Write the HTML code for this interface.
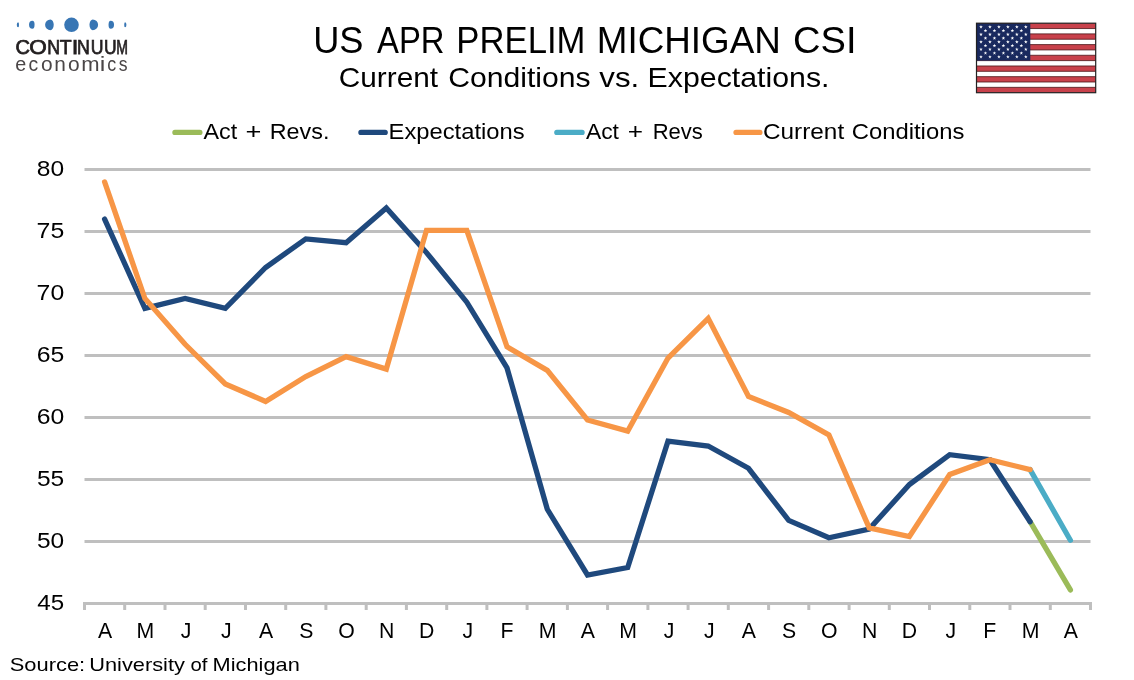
<!DOCTYPE html>
<html><head><meta charset="utf-8"><style>
html,body{margin:0;padding:0;background:#fff;}
svg{display:block;will-change:transform;}
text{font-family:"Liberation Sans", sans-serif;}
</style></head><body>
<svg width="1134" height="680" viewBox="0 0 1134 680">
<rect width="1134" height="680" fill="#fff"/>
<line x1="84.5" y1="169.5" x2="1090.5" y2="169.5" stroke="#BFBFBF" stroke-width="3"/>
<line x1="84.5" y1="231.5" x2="1090.5" y2="231.5" stroke="#BFBFBF" stroke-width="3"/>
<line x1="84.5" y1="293.5" x2="1090.5" y2="293.5" stroke="#BFBFBF" stroke-width="3"/>
<line x1="84.5" y1="355.5" x2="1090.5" y2="355.5" stroke="#BFBFBF" stroke-width="3"/>
<line x1="84.5" y1="417.5" x2="1090.5" y2="417.5" stroke="#BFBFBF" stroke-width="3"/>
<line x1="84.5" y1="479.5" x2="1090.5" y2="479.5" stroke="#BFBFBF" stroke-width="3"/>
<line x1="84.5" y1="541.5" x2="1090.5" y2="541.5" stroke="#BFBFBF" stroke-width="3"/>
<line x1="83.0" y1="603.5" x2="1092.0" y2="603.5" stroke="#BFBFBF" stroke-width="3"/>
<line x1="84.5" y1="603.5" x2="84.5" y2="610.0" stroke="#BFBFBF" stroke-width="3"/>
<line x1="124.7" y1="603.5" x2="124.7" y2="610.0" stroke="#BFBFBF" stroke-width="3"/>
<line x1="165.0" y1="603.5" x2="165.0" y2="610.0" stroke="#BFBFBF" stroke-width="3"/>
<line x1="205.2" y1="603.5" x2="205.2" y2="610.0" stroke="#BFBFBF" stroke-width="3"/>
<line x1="245.5" y1="603.5" x2="245.5" y2="610.0" stroke="#BFBFBF" stroke-width="3"/>
<line x1="285.7" y1="603.5" x2="285.7" y2="610.0" stroke="#BFBFBF" stroke-width="3"/>
<line x1="325.9" y1="603.5" x2="325.9" y2="610.0" stroke="#BFBFBF" stroke-width="3"/>
<line x1="366.2" y1="603.5" x2="366.2" y2="610.0" stroke="#BFBFBF" stroke-width="3"/>
<line x1="406.4" y1="603.5" x2="406.4" y2="610.0" stroke="#BFBFBF" stroke-width="3"/>
<line x1="446.7" y1="603.5" x2="446.7" y2="610.0" stroke="#BFBFBF" stroke-width="3"/>
<line x1="486.9" y1="603.5" x2="486.9" y2="610.0" stroke="#BFBFBF" stroke-width="3"/>
<line x1="527.1" y1="603.5" x2="527.1" y2="610.0" stroke="#BFBFBF" stroke-width="3"/>
<line x1="567.4" y1="603.5" x2="567.4" y2="610.0" stroke="#BFBFBF" stroke-width="3"/>
<line x1="607.6" y1="603.5" x2="607.6" y2="610.0" stroke="#BFBFBF" stroke-width="3"/>
<line x1="647.9" y1="603.5" x2="647.9" y2="610.0" stroke="#BFBFBF" stroke-width="3"/>
<line x1="688.1" y1="603.5" x2="688.1" y2="610.0" stroke="#BFBFBF" stroke-width="3"/>
<line x1="728.3" y1="603.5" x2="728.3" y2="610.0" stroke="#BFBFBF" stroke-width="3"/>
<line x1="768.6" y1="603.5" x2="768.6" y2="610.0" stroke="#BFBFBF" stroke-width="3"/>
<line x1="808.8" y1="603.5" x2="808.8" y2="610.0" stroke="#BFBFBF" stroke-width="3"/>
<line x1="849.1" y1="603.5" x2="849.1" y2="610.0" stroke="#BFBFBF" stroke-width="3"/>
<line x1="889.3" y1="603.5" x2="889.3" y2="610.0" stroke="#BFBFBF" stroke-width="3"/>
<line x1="929.5" y1="603.5" x2="929.5" y2="610.0" stroke="#BFBFBF" stroke-width="3"/>
<line x1="969.8" y1="603.5" x2="969.8" y2="610.0" stroke="#BFBFBF" stroke-width="3"/>
<line x1="1010.0" y1="603.5" x2="1010.0" y2="610.0" stroke="#BFBFBF" stroke-width="3"/>
<line x1="1050.3" y1="603.5" x2="1050.3" y2="610.0" stroke="#BFBFBF" stroke-width="3"/>
<line x1="1090.5" y1="603.5" x2="1090.5" y2="610.0" stroke="#BFBFBF" stroke-width="3"/>
<text x="36.86" y="176.00" font-size="22.60" fill="#000" textLength="27.32" lengthAdjust="spacingAndGlyphs">80</text>
<text x="36.59" y="238.00" font-size="22.60" fill="#000" textLength="27.66" lengthAdjust="spacingAndGlyphs">75</text>
<text x="36.60" y="300.00" font-size="22.60" fill="#000" textLength="27.59" lengthAdjust="spacingAndGlyphs">70</text>
<text x="36.66" y="362.00" font-size="22.60" fill="#000" textLength="27.59" lengthAdjust="spacingAndGlyphs">65</text>
<text x="36.66" y="424.00" font-size="22.60" fill="#000" textLength="27.52" lengthAdjust="spacingAndGlyphs">60</text>
<text x="36.92" y="486.00" font-size="22.60" fill="#000" textLength="27.32" lengthAdjust="spacingAndGlyphs">55</text>
<text x="36.92" y="548.00" font-size="22.60" fill="#000" textLength="27.26" lengthAdjust="spacingAndGlyphs">50</text>
<text x="37.36" y="610.00" font-size="22.60" fill="#000" textLength="26.87" lengthAdjust="spacingAndGlyphs">45</text>
<text x="97.93" y="638.00" font-size="22.60" fill="#000" textLength="14.17" lengthAdjust="spacingAndGlyphs">A</text>
<text x="136.42" y="638.00" font-size="22.60" fill="#000" textLength="17.70" lengthAdjust="spacingAndGlyphs">M</text>
<text x="180.83" y="638.00" font-size="22.60" fill="#000" textLength="10.62" lengthAdjust="spacingAndGlyphs">J</text>
<text x="221.07" y="638.00" font-size="22.60" fill="#000" textLength="10.62" lengthAdjust="spacingAndGlyphs">J</text>
<text x="258.89" y="638.00" font-size="22.60" fill="#000" textLength="14.17" lengthAdjust="spacingAndGlyphs">A</text>
<text x="299.16" y="638.00" font-size="22.60" fill="#000" textLength="14.17" lengthAdjust="spacingAndGlyphs">S</text>
<text x="338.20" y="638.00" font-size="22.60" fill="#000" textLength="16.52" lengthAdjust="spacingAndGlyphs">O</text>
<text x="379.03" y="638.00" font-size="22.60" fill="#000" textLength="15.34" lengthAdjust="spacingAndGlyphs">N</text>
<text x="418.89" y="638.00" font-size="22.60" fill="#000" textLength="15.34" lengthAdjust="spacingAndGlyphs">D</text>
<text x="462.51" y="638.00" font-size="22.60" fill="#000" textLength="10.62" lengthAdjust="spacingAndGlyphs">J</text>
<text x="500.49" y="638.00" font-size="22.60" fill="#000" textLength="12.98" lengthAdjust="spacingAndGlyphs">F</text>
<text x="538.82" y="638.00" font-size="22.60" fill="#000" textLength="17.70" lengthAdjust="spacingAndGlyphs">M</text>
<text x="580.81" y="638.00" font-size="22.60" fill="#000" textLength="14.17" lengthAdjust="spacingAndGlyphs">A</text>
<text x="619.30" y="638.00" font-size="22.60" fill="#000" textLength="17.70" lengthAdjust="spacingAndGlyphs">M</text>
<text x="663.71" y="638.00" font-size="22.60" fill="#000" textLength="10.62" lengthAdjust="spacingAndGlyphs">J</text>
<text x="703.95" y="638.00" font-size="22.60" fill="#000" textLength="10.62" lengthAdjust="spacingAndGlyphs">J</text>
<text x="741.77" y="638.00" font-size="22.60" fill="#000" textLength="14.17" lengthAdjust="spacingAndGlyphs">A</text>
<text x="782.04" y="638.00" font-size="22.60" fill="#000" textLength="14.17" lengthAdjust="spacingAndGlyphs">S</text>
<text x="821.08" y="638.00" font-size="22.60" fill="#000" textLength="16.52" lengthAdjust="spacingAndGlyphs">O</text>
<text x="861.91" y="638.00" font-size="22.60" fill="#000" textLength="15.34" lengthAdjust="spacingAndGlyphs">N</text>
<text x="901.77" y="638.00" font-size="22.60" fill="#000" textLength="15.34" lengthAdjust="spacingAndGlyphs">D</text>
<text x="945.39" y="638.00" font-size="22.60" fill="#000" textLength="10.62" lengthAdjust="spacingAndGlyphs">J</text>
<text x="983.37" y="638.00" font-size="22.60" fill="#000" textLength="12.98" lengthAdjust="spacingAndGlyphs">F</text>
<text x="1021.70" y="638.00" font-size="22.60" fill="#000" textLength="17.70" lengthAdjust="spacingAndGlyphs">M</text>
<text x="1063.69" y="638.00" font-size="22.60" fill="#000" textLength="14.17" lengthAdjust="spacingAndGlyphs">A</text>
<polyline points="1030.1,521.7 1070.4,589.9" fill="none" stroke="#9BBB59" stroke-width="5.3" stroke-linejoin="miter" stroke-miterlimit="10" stroke-linecap="round"/>
<polyline points="104.6,219.1 144.9,308.4 185.1,298.5 225.3,308.4 265.6,267.5 305.8,238.9 346.1,242.7 386.3,207.9 426.5,252.6 466.8,302.2 507.0,367.9 547.3,509.3 587.5,575.0 627.7,567.5 668.0,441.1 708.2,446.0 748.5,468.3 788.7,520.4 828.9,537.8 869.2,529.1 909.4,484.5 949.7,454.7 989.9,459.7 1030.1,521.7" fill="none" stroke="#1F497D" stroke-width="5.3" stroke-linejoin="miter" stroke-miterlimit="10" stroke-linecap="round"/>
<polyline points="1030.1,469.6 1070.4,540.3" fill="none" stroke="#4BACC6" stroke-width="5.3" stroke-linejoin="miter" stroke-miterlimit="10" stroke-linecap="round"/>
<polyline points="104.6,181.9 144.9,298.5 185.1,344.3 225.3,384.0 265.6,401.4 305.8,376.6 346.1,356.7 386.3,369.1 426.5,230.3 466.8,230.3 507.0,346.8 547.3,370.4 587.5,420.0 627.7,431.1 668.0,358.0 708.2,318.3 748.5,396.4 788.7,412.5 828.9,434.9 869.2,527.9 909.4,536.5 949.7,474.5 989.9,459.7 1030.1,469.6" fill="none" stroke="#F79646" stroke-width="5.3" stroke-linejoin="miter" stroke-miterlimit="10" stroke-linecap="round"/>
<line x1="174.9" y1="132.4" x2="199.9" y2="132.4" stroke="#9BBB59" stroke-width="5.2" stroke-linecap="round"/>
<text x="203.54" y="138.80" font-size="22.60" fill="#000" textLength="33.73" lengthAdjust="spacingAndGlyphs">Act</text>
<text x="245.54" y="138.80" font-size="22.60" fill="#000" textLength="15.89" lengthAdjust="spacingAndGlyphs">+</text>
<text x="269.77" y="138.80" font-size="22.60" fill="#000" textLength="59.65" lengthAdjust="spacingAndGlyphs">Revs.</text>
<line x1="360.9" y1="132.4" x2="385.2" y2="132.4" stroke="#1F497D" stroke-width="5.2" stroke-linecap="round"/>
<text x="388.54" y="138.80" font-size="22.60" fill="#000" textLength="136.11" lengthAdjust="spacingAndGlyphs">Expectations</text>
<line x1="556.8" y1="132.4" x2="582.1" y2="132.4" stroke="#4BACC6" stroke-width="5.2" stroke-linecap="round"/>
<text x="585.94" y="138.80" font-size="22.60" fill="#000" textLength="33.02" lengthAdjust="spacingAndGlyphs">Act</text>
<text x="627.79" y="138.80" font-size="22.60" fill="#000" textLength="15.29" lengthAdjust="spacingAndGlyphs">+</text>
<text x="652.68" y="138.80" font-size="22.60" fill="#000" textLength="50.21" lengthAdjust="spacingAndGlyphs">Revs</text>
<line x1="736.0" y1="132.4" x2="759.9" y2="132.4" stroke="#F79646" stroke-width="5.2" stroke-linecap="round"/>
<text x="762.98" y="138.80" font-size="22.60" fill="#000" textLength="81.19" lengthAdjust="spacingAndGlyphs">Current</text>
<text x="851.71" y="138.80" font-size="22.60" fill="#000" textLength="112.63" lengthAdjust="spacingAndGlyphs">Conditions</text>
<text x="313.19" y="53.20" font-size="37.20" fill="#000" textLength="50.30" lengthAdjust="spacingAndGlyphs">US</text>
<text x="377.02" y="53.20" font-size="37.20" fill="#000" textLength="67.50" lengthAdjust="spacingAndGlyphs">APR</text>
<text x="456.34" y="53.20" font-size="37.20" fill="#000" textLength="129.15" lengthAdjust="spacingAndGlyphs">PRELIM</text>
<text x="596.87" y="53.20" font-size="37.20" fill="#000" textLength="183.87" lengthAdjust="spacingAndGlyphs">MICHIGAN</text>
<text x="793.10" y="53.20" font-size="37.20" fill="#000" textLength="63.40" lengthAdjust="spacingAndGlyphs">CSI</text>
<text x="338.81" y="86.60" font-size="27.40" fill="#000" textLength="99.20" lengthAdjust="spacingAndGlyphs">Current</text>
<text x="448.19" y="86.60" font-size="27.40" fill="#000" textLength="142.47" lengthAdjust="spacingAndGlyphs">Conditions</text>
<text x="599.34" y="86.60" font-size="27.40" fill="#000" textLength="39.98" lengthAdjust="spacingAndGlyphs">vs.</text>
<text x="647.60" y="86.60" font-size="27.40" fill="#000" textLength="181.86" lengthAdjust="spacingAndGlyphs">Expectations.</text>
<text x="9.71" y="670.50" font-size="19.00" fill="#000" textLength="75.49" lengthAdjust="spacingAndGlyphs">Source:</text>
<text x="89.21" y="670.50" font-size="19.00" fill="#000" textLength="95.64" lengthAdjust="spacingAndGlyphs">University</text>
<text x="190.44" y="670.50" font-size="19.00" fill="#000" textLength="16.94" lengthAdjust="spacingAndGlyphs">of</text>
<text x="212.60" y="670.50" font-size="19.00" fill="#000" textLength="87.16" lengthAdjust="spacingAndGlyphs">Michigan</text>
<path d="M18.16,22.30 A1.36,2.50 0 0 0 18.16,27.30 A0.84,2.50 0 0 0 18.16,22.30 Z" fill="#3876B4"/>
<path d="M32.46,20.80 A3.41,4.00 0 0 0 32.46,28.80 A2.09,4.00 0 0 0 32.46,20.80 Z" fill="#3876B4"/>
<path d="M50.43,19.45 A5.33,5.35 0 0 0 50.43,30.15 A3.27,5.35 0 0 0 50.43,19.45 Z" fill="#3876B4"/>
<ellipse cx="71.50" cy="24.80" rx="7.30" ry="7.20" fill="#3876B4"/>
<path d="M92.77,19.45 A5.33,5.35 0 0 1 92.77,30.15 A3.27,5.35 0 0 1 92.77,19.45 Z" fill="#3876B4"/>
<path d="M110.64,20.80 A3.41,4.00 0 0 1 110.64,28.80 A2.09,4.00 0 0 1 110.64,20.80 Z" fill="#3876B4"/>
<path d="M125.04,22.30 A1.36,2.50 0 0 1 125.04,27.30 A0.84,2.50 0 0 1 125.04,22.30 Z" fill="#3876B4"/>
<text x="15.60" y="53.70" font-size="20.00" fill="#231F20" textLength="14.50" lengthAdjust="spacingAndGlyphs" stroke="#231F20" stroke-width="0.75">C</text>
<text x="29.33" y="53.70" font-size="20.00" fill="#231F20" textLength="17.55" lengthAdjust="spacingAndGlyphs" stroke="#231F20" stroke-width="0.75">O</text>
<text x="47.13" y="53.70" font-size="20.00" fill="#231F20" textLength="12.82" lengthAdjust="spacingAndGlyphs" stroke="#231F20" stroke-width="0.75">N</text>
<text x="59.76" y="53.70" font-size="20.00" fill="#231F20" textLength="11.89" lengthAdjust="spacingAndGlyphs" stroke="#231F20" stroke-width="0.75">T</text>
<text x="71.80" y="53.70" font-size="20.00" fill="#231F20" textLength="6.61" lengthAdjust="spacingAndGlyphs" stroke="#231F20" stroke-width="0.75">I</text>
<text x="76.93" y="53.70" font-size="20.00" fill="#231F20" textLength="12.82" lengthAdjust="spacingAndGlyphs" stroke="#231F20" stroke-width="0.75">N</text>
<text x="90.73" y="53.70" font-size="20.00" fill="#231F20" textLength="12.73" lengthAdjust="spacingAndGlyphs" stroke="#231F20" stroke-width="0.75">U</text>
<text x="104.05" y="53.70" font-size="20.00" fill="#231F20" textLength="12.60" lengthAdjust="spacingAndGlyphs" stroke="#231F20" stroke-width="0.75">U</text>
<text x="116.34" y="53.70" font-size="20.00" fill="#231F20" textLength="11.73" lengthAdjust="spacingAndGlyphs" stroke="#231F20" stroke-width="0.75">M</text>
<text x="15.26" y="71.00" font-size="20.00" fill="#4A4647" textLength="11.01" lengthAdjust="spacingAndGlyphs">e</text>
<text x="28.48" y="71.00" font-size="20.00" fill="#4A4647" textLength="9.65" lengthAdjust="spacingAndGlyphs">c</text>
<text x="41.11" y="71.00" font-size="20.00" fill="#4A4647" textLength="11.65" lengthAdjust="spacingAndGlyphs">o</text>
<text x="54.39" y="71.00" font-size="20.00" fill="#4A4647" textLength="11.58" lengthAdjust="spacingAndGlyphs">n</text>
<text x="68.11" y="71.00" font-size="20.00" fill="#4A4647" textLength="11.65" lengthAdjust="spacingAndGlyphs">o</text>
<text x="81.31" y="71.00" font-size="20.00" fill="#4A4647" textLength="18.33" lengthAdjust="spacingAndGlyphs">m</text>
<text x="99.80" y="71.00" font-size="20.00" fill="#4A4647" textLength="5.59" lengthAdjust="spacingAndGlyphs">i</text>
<text x="107.34" y="71.00" font-size="20.00" fill="#4A4647" textLength="8.95" lengthAdjust="spacingAndGlyphs">c</text>
<text x="118.72" y="71.00" font-size="20.00" fill="#4A4647" textLength="8.80" lengthAdjust="spacingAndGlyphs">s</text>
<rect x="976.5" y="23.2" width="119.2" height="69.5" fill="#FFFFFF"/>
<rect x="976.5" y="23.20" width="119.2" height="5.35" fill="#C8414B"/>
<rect x="976.5" y="33.89" width="119.2" height="5.35" fill="#C8414B"/>
<rect x="976.5" y="44.58" width="119.2" height="5.35" fill="#C8414B"/>
<rect x="976.5" y="55.28" width="119.2" height="5.35" fill="#C8414B"/>
<rect x="976.5" y="65.97" width="119.2" height="5.35" fill="#C8414B"/>
<rect x="976.5" y="76.66" width="119.2" height="5.35" fill="#C8414B"/>
<rect x="976.5" y="87.35" width="119.2" height="5.35" fill="#C8414B"/>
<line x1="976.5" y1="28.55" x2="1095.7" y2="28.55" stroke="#4A1518" stroke-width="0.8"/>
<line x1="976.5" y1="33.89" x2="1095.7" y2="33.89" stroke="#4A1518" stroke-width="0.8"/>
<line x1="976.5" y1="39.24" x2="1095.7" y2="39.24" stroke="#4A1518" stroke-width="0.8"/>
<line x1="976.5" y1="44.58" x2="1095.7" y2="44.58" stroke="#4A1518" stroke-width="0.8"/>
<line x1="976.5" y1="49.93" x2="1095.7" y2="49.93" stroke="#4A1518" stroke-width="0.8"/>
<line x1="976.5" y1="55.28" x2="1095.7" y2="55.28" stroke="#4A1518" stroke-width="0.8"/>
<line x1="976.5" y1="60.62" x2="1095.7" y2="60.62" stroke="#4A1518" stroke-width="0.8"/>
<line x1="976.5" y1="65.97" x2="1095.7" y2="65.97" stroke="#4A1518" stroke-width="0.8"/>
<line x1="976.5" y1="71.32" x2="1095.7" y2="71.32" stroke="#4A1518" stroke-width="0.8"/>
<line x1="976.5" y1="76.66" x2="1095.7" y2="76.66" stroke="#4A1518" stroke-width="0.8"/>
<line x1="976.5" y1="82.01" x2="1095.7" y2="82.01" stroke="#4A1518" stroke-width="0.8"/>
<line x1="976.5" y1="87.35" x2="1095.7" y2="87.35" stroke="#4A1518" stroke-width="0.8"/>
<rect x="976.5" y="23.2" width="53.8" height="37.42" fill="#19295E"/>
<polygon points="980.98,25.04 981.41,26.36 982.79,26.36 981.67,27.17 982.10,28.48 980.98,27.67 979.87,28.48 980.29,27.17 979.18,26.36 980.56,26.36" fill="#FFFFFF"/>
<polygon points="989.95,25.04 990.38,26.36 991.76,26.36 990.64,27.17 991.07,28.48 989.95,27.67 988.83,28.48 989.26,27.17 988.14,26.36 989.52,26.36" fill="#FFFFFF"/>
<polygon points="998.92,25.04 999.34,26.36 1000.72,26.36 999.61,27.17 1000.03,28.48 998.92,27.67 997.80,28.48 998.23,27.17 997.11,26.36 998.49,26.36" fill="#FFFFFF"/>
<polygon points="1007.88,25.04 1008.31,26.36 1009.69,26.36 1008.57,27.17 1009.00,28.48 1007.88,27.67 1006.77,28.48 1007.19,27.17 1006.08,26.36 1007.46,26.36" fill="#FFFFFF"/>
<polygon points="1016.85,25.04 1017.28,26.36 1018.66,26.36 1017.54,27.17 1017.97,28.48 1016.85,27.67 1015.73,28.48 1016.16,27.17 1015.04,26.36 1016.42,26.36" fill="#FFFFFF"/>
<polygon points="1025.82,25.04 1026.24,26.36 1027.62,26.36 1026.51,27.17 1026.93,28.48 1025.82,27.67 1024.70,28.48 1025.13,27.17 1024.01,26.36 1025.39,26.36" fill="#FFFFFF"/>
<polygon points="985.47,28.78 985.89,30.10 987.27,30.10 986.16,30.91 986.58,32.22 985.47,31.41 984.35,32.22 984.78,30.91 983.66,30.10 985.04,30.10" fill="#FFFFFF"/>
<polygon points="994.43,28.78 994.86,30.10 996.24,30.10 995.12,30.91 995.55,32.22 994.43,31.41 993.32,32.22 993.74,30.91 992.63,30.10 994.01,30.10" fill="#FFFFFF"/>
<polygon points="1003.40,28.78 1003.83,30.10 1005.21,30.10 1004.09,30.91 1004.52,32.22 1003.40,31.41 1002.28,32.22 1002.71,30.91 1001.59,30.10 1002.97,30.10" fill="#FFFFFF"/>
<polygon points="1012.37,28.78 1012.79,30.10 1014.17,30.10 1013.06,30.91 1013.48,32.22 1012.37,31.41 1011.25,32.22 1011.68,30.91 1010.56,30.10 1011.94,30.10" fill="#FFFFFF"/>
<polygon points="1021.33,28.78 1021.76,30.10 1023.14,30.10 1022.02,30.91 1022.45,32.22 1021.33,31.41 1020.22,32.22 1020.64,30.91 1019.53,30.10 1020.91,30.10" fill="#FFFFFF"/>
<polygon points="980.98,32.53 981.41,33.84 982.79,33.84 981.67,34.65 982.10,35.96 980.98,35.15 979.87,35.96 980.29,34.65 979.18,33.84 980.56,33.84" fill="#FFFFFF"/>
<polygon points="989.95,32.53 990.38,33.84 991.76,33.84 990.64,34.65 991.07,35.96 989.95,35.15 988.83,35.96 989.26,34.65 988.14,33.84 989.52,33.84" fill="#FFFFFF"/>
<polygon points="998.92,32.53 999.34,33.84 1000.72,33.84 999.61,34.65 1000.03,35.96 998.92,35.15 997.80,35.96 998.23,34.65 997.11,33.84 998.49,33.84" fill="#FFFFFF"/>
<polygon points="1007.88,32.53 1008.31,33.84 1009.69,33.84 1008.57,34.65 1009.00,35.96 1007.88,35.15 1006.77,35.96 1007.19,34.65 1006.08,33.84 1007.46,33.84" fill="#FFFFFF"/>
<polygon points="1016.85,32.53 1017.28,33.84 1018.66,33.84 1017.54,34.65 1017.97,35.96 1016.85,35.15 1015.73,35.96 1016.16,34.65 1015.04,33.84 1016.42,33.84" fill="#FFFFFF"/>
<polygon points="1025.82,32.53 1026.24,33.84 1027.62,33.84 1026.51,34.65 1026.93,35.96 1025.82,35.15 1024.70,35.96 1025.13,34.65 1024.01,33.84 1025.39,33.84" fill="#FFFFFF"/>
<polygon points="985.47,36.27 985.89,37.58 987.27,37.58 986.16,38.39 986.58,39.71 985.47,38.90 984.35,39.71 984.78,38.39 983.66,37.58 985.04,37.58" fill="#FFFFFF"/>
<polygon points="994.43,36.27 994.86,37.58 996.24,37.58 995.12,38.39 995.55,39.71 994.43,38.90 993.32,39.71 993.74,38.39 992.63,37.58 994.01,37.58" fill="#FFFFFF"/>
<polygon points="1003.40,36.27 1003.83,37.58 1005.21,37.58 1004.09,38.39 1004.52,39.71 1003.40,38.90 1002.28,39.71 1002.71,38.39 1001.59,37.58 1002.97,37.58" fill="#FFFFFF"/>
<polygon points="1012.37,36.27 1012.79,37.58 1014.17,37.58 1013.06,38.39 1013.48,39.71 1012.37,38.90 1011.25,39.71 1011.68,38.39 1010.56,37.58 1011.94,37.58" fill="#FFFFFF"/>
<polygon points="1021.33,36.27 1021.76,37.58 1023.14,37.58 1022.02,38.39 1022.45,39.71 1021.33,38.90 1020.22,39.71 1020.64,38.39 1019.53,37.58 1020.91,37.58" fill="#FFFFFF"/>
<polygon points="980.98,40.01 981.41,41.32 982.79,41.32 981.67,42.14 982.10,43.45 980.98,42.64 979.87,43.45 980.29,42.14 979.18,41.32 980.56,41.32" fill="#FFFFFF"/>
<polygon points="989.95,40.01 990.38,41.32 991.76,41.32 990.64,42.14 991.07,43.45 989.95,42.64 988.83,43.45 989.26,42.14 988.14,41.32 989.52,41.32" fill="#FFFFFF"/>
<polygon points="998.92,40.01 999.34,41.32 1000.72,41.32 999.61,42.14 1000.03,43.45 998.92,42.64 997.80,43.45 998.23,42.14 997.11,41.32 998.49,41.32" fill="#FFFFFF"/>
<polygon points="1007.88,40.01 1008.31,41.32 1009.69,41.32 1008.57,42.14 1009.00,43.45 1007.88,42.64 1006.77,43.45 1007.19,42.14 1006.08,41.32 1007.46,41.32" fill="#FFFFFF"/>
<polygon points="1016.85,40.01 1017.28,41.32 1018.66,41.32 1017.54,42.14 1017.97,43.45 1016.85,42.64 1015.73,43.45 1016.16,42.14 1015.04,41.32 1016.42,41.32" fill="#FFFFFF"/>
<polygon points="1025.82,40.01 1026.24,41.32 1027.62,41.32 1026.51,42.14 1026.93,43.45 1025.82,42.64 1024.70,43.45 1025.13,42.14 1024.01,41.32 1025.39,41.32" fill="#FFFFFF"/>
<polygon points="985.47,43.75 985.89,45.07 987.27,45.07 986.16,45.88 986.58,47.19 985.47,46.38 984.35,47.19 984.78,45.88 983.66,45.07 985.04,45.07" fill="#FFFFFF"/>
<polygon points="994.43,43.75 994.86,45.07 996.24,45.07 995.12,45.88 995.55,47.19 994.43,46.38 993.32,47.19 993.74,45.88 992.63,45.07 994.01,45.07" fill="#FFFFFF"/>
<polygon points="1003.40,43.75 1003.83,45.07 1005.21,45.07 1004.09,45.88 1004.52,47.19 1003.40,46.38 1002.28,47.19 1002.71,45.88 1001.59,45.07 1002.97,45.07" fill="#FFFFFF"/>
<polygon points="1012.37,43.75 1012.79,45.07 1014.17,45.07 1013.06,45.88 1013.48,47.19 1012.37,46.38 1011.25,47.19 1011.68,45.88 1010.56,45.07 1011.94,45.07" fill="#FFFFFF"/>
<polygon points="1021.33,43.75 1021.76,45.07 1023.14,45.07 1022.02,45.88 1022.45,47.19 1021.33,46.38 1020.22,47.19 1020.64,45.88 1019.53,45.07 1020.91,45.07" fill="#FFFFFF"/>
<polygon points="980.98,47.50 981.41,48.81 982.79,48.81 981.67,49.62 982.10,50.93 980.98,50.12 979.87,50.93 980.29,49.62 979.18,48.81 980.56,48.81" fill="#FFFFFF"/>
<polygon points="989.95,47.50 990.38,48.81 991.76,48.81 990.64,49.62 991.07,50.93 989.95,50.12 988.83,50.93 989.26,49.62 988.14,48.81 989.52,48.81" fill="#FFFFFF"/>
<polygon points="998.92,47.50 999.34,48.81 1000.72,48.81 999.61,49.62 1000.03,50.93 998.92,50.12 997.80,50.93 998.23,49.62 997.11,48.81 998.49,48.81" fill="#FFFFFF"/>
<polygon points="1007.88,47.50 1008.31,48.81 1009.69,48.81 1008.57,49.62 1009.00,50.93 1007.88,50.12 1006.77,50.93 1007.19,49.62 1006.08,48.81 1007.46,48.81" fill="#FFFFFF"/>
<polygon points="1016.85,47.50 1017.28,48.81 1018.66,48.81 1017.54,49.62 1017.97,50.93 1016.85,50.12 1015.73,50.93 1016.16,49.62 1015.04,48.81 1016.42,48.81" fill="#FFFFFF"/>
<polygon points="1025.82,47.50 1026.24,48.81 1027.62,48.81 1026.51,49.62 1026.93,50.93 1025.82,50.12 1024.70,50.93 1025.13,49.62 1024.01,48.81 1025.39,48.81" fill="#FFFFFF"/>
<polygon points="985.47,51.24 985.89,52.55 987.27,52.55 986.16,53.36 986.58,54.68 985.47,53.86 984.35,54.68 984.78,53.36 983.66,52.55 985.04,52.55" fill="#FFFFFF"/>
<polygon points="994.43,51.24 994.86,52.55 996.24,52.55 995.12,53.36 995.55,54.68 994.43,53.86 993.32,54.68 993.74,53.36 992.63,52.55 994.01,52.55" fill="#FFFFFF"/>
<polygon points="1003.40,51.24 1003.83,52.55 1005.21,52.55 1004.09,53.36 1004.52,54.68 1003.40,53.86 1002.28,54.68 1002.71,53.36 1001.59,52.55 1002.97,52.55" fill="#FFFFFF"/>
<polygon points="1012.37,51.24 1012.79,52.55 1014.17,52.55 1013.06,53.36 1013.48,54.68 1012.37,53.86 1011.25,54.68 1011.68,53.36 1010.56,52.55 1011.94,52.55" fill="#FFFFFF"/>
<polygon points="1021.33,51.24 1021.76,52.55 1023.14,52.55 1022.02,53.36 1022.45,54.68 1021.33,53.86 1020.22,54.68 1020.64,53.36 1019.53,52.55 1020.91,52.55" fill="#FFFFFF"/>
<polygon points="980.98,54.98 981.41,56.29 982.79,56.29 981.67,57.11 982.10,58.42 980.98,57.61 979.87,58.42 980.29,57.11 979.18,56.29 980.56,56.29" fill="#FFFFFF"/>
<polygon points="989.95,54.98 990.38,56.29 991.76,56.29 990.64,57.11 991.07,58.42 989.95,57.61 988.83,58.42 989.26,57.11 988.14,56.29 989.52,56.29" fill="#FFFFFF"/>
<polygon points="998.92,54.98 999.34,56.29 1000.72,56.29 999.61,57.11 1000.03,58.42 998.92,57.61 997.80,58.42 998.23,57.11 997.11,56.29 998.49,56.29" fill="#FFFFFF"/>
<polygon points="1007.88,54.98 1008.31,56.29 1009.69,56.29 1008.57,57.11 1009.00,58.42 1007.88,57.61 1006.77,58.42 1007.19,57.11 1006.08,56.29 1007.46,56.29" fill="#FFFFFF"/>
<polygon points="1016.85,54.98 1017.28,56.29 1018.66,56.29 1017.54,57.11 1017.97,58.42 1016.85,57.61 1015.73,58.42 1016.16,57.11 1015.04,56.29 1016.42,56.29" fill="#FFFFFF"/>
<polygon points="1025.82,54.98 1026.24,56.29 1027.62,56.29 1026.51,57.11 1026.93,58.42 1025.82,57.61 1024.70,58.42 1025.13,57.11 1024.01,56.29 1025.39,56.29" fill="#FFFFFF"/>
<rect x="976.5" y="23.2" width="119.2" height="69.5" fill="none" stroke="#222" stroke-width="1.2"/>
</svg></body></html>
